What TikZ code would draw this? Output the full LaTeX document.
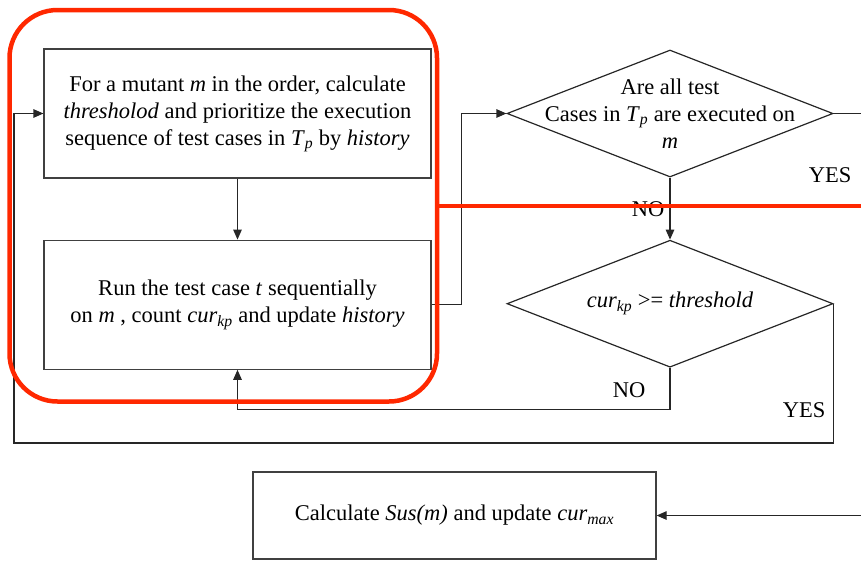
\documentclass[tikz,border=0pt]{standalone}
\usepackage{fontspec}
\setmainfont{Liberation Serif}
\usetikzlibrary{positioning}
\usetikzlibrary{shapes.geometric}
\usetikzlibrary{arrows.meta}

\definecolor{markred}{RGB}{255,40,0}

\begin{document}
\begin{tikzpicture}[
    x=1pt, y=-1pt,
    font=\fontsize{22.5}{27}\selectfont,
    procbox/.style={draw=black!75, line width=1.2pt, minimum width=387pt, minimum height=129pt, align=center, inner sep=0pt},
    decision/.style={diamond, draw=black!85, line width=1.2pt, minimum width=326pt, minimum height=127pt, inner sep=0pt},
    wire/.style={draw=black!85, line width=1.2pt},
    flow/.style={wire, -{Triangle[length=10pt,width=8.5pt]}},
    redbox/.style={draw=markred, line width=4.5pt, rounded corners=48pt},
    redline/.style={draw=markred, line width=3.5pt}
  ]
  \useasboundingbox (0,0) rectangle (861,560);

  \node[procbox] (order) at (237.5,113.5) {For a mutant \textit{m} in the order, calculate\\ \textit{thresholod} and prioritize the execution\\ sequence of test cases in \textit{T}\textsubscript{\textit{p}} by \textit{history}};
  \node[procbox, below=61pt of order] (run) {Run the test case \textit{t} sequentially\\ on \textit{m} , count \textit{cur}\textsubscript{\textit{kp}} and update \textit{history}};

  \node[decision] (allrun) at (670,113.5) {};
  \node[align=center] (allruntext) at (allrun) {Are all test\\ Cases in \textit{T}\textsubscript{\textit{p}} are executed on\\ \textit{m}};
  \node[decision, below=62pt of allrun] (reach) {};
  \node (reachtext) at (reach) {\textit{cur}\textsubscript{\textit{kp}} >= \textit{threshold}};

  \node[procbox, minimum width=403pt, minimum height=87pt] (susup) at (454.5,515.5) {Calculate \textit{Sus(m)} and update \textit{cur}\textsubscript{\textit{max}}};

  \node (noa) at (648,209) {NO};
  \node (nob) at (629,390) {NO};
  \node (yesa) at (830,175) {YES};
  \node (yesb) at (804,410) {YES};

  \coordinate (yesout) at (861,113.5);
  \coordinate (loopcorner) at (14,443);
  \coordinate (yesin) at (861,515.5);

  \draw[flow] (order) -- (run);
  \draw[flow] (run.east) -- ++(30,0) |- (allrun.west);
  \draw[flow] (allrun) -- (reach);
  \draw[wire] (allrun.east) -- (yesout);
  \draw[flow] (reach.south) -- ++(0,42) -| (run.south);
  \draw[flow] (reach.east) |- (loopcorner) |- (order.west);
  \draw[flow] (yesin) -- (susup);

  % highlight
  \draw[redbox] (9.5,10) rectangle (437,401.5);
  \draw[redline] (437,206) -- (861,206);

\end{tikzpicture}
\end{document}
